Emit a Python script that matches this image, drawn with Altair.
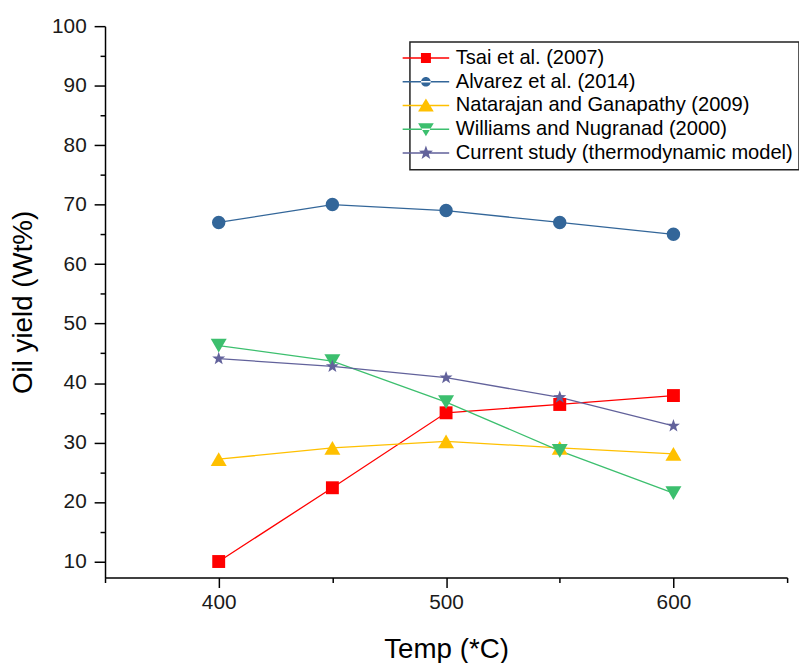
import altair as alt
import pandas as pd

temps = [400, 450, 500, 550, 600]
series_names = [
    "Tsai et al. (2007)",
    "Alvarez et al. (2014)",
    "Natarajan and Ganapathy (2009)",
    "Williams and Nugranad (2000)",
    "Current study (thermodynamic model)",
]
tsai = [10.0, 22.4, 35.0, 36.4, 37.9]
alvarez = [67.0, 70.0, 69.0, 67.0, 65.0]
natarajan = [27.2, 29.1, 30.2, 29.1, 28.1]
williams = [46.3, 43.7, 36.8, 28.6, 21.5]
current = [44.1, 42.8, 40.9, 37.6, 32.8]

y_major = [10, 20, 30, 40, 50, 60, 70, 80, 90, 100]
y_minor = [15, 25, 35, 45, 55, 65, 75, 85, 95]
x_major = [400, 500, 600]
x_minor = [350, 450, 550, 650]

colors = ["#ff0000", "#336699", "#ffc000", "#3cbf6e", "#62629b"]

STAR = [(0, -1), (0.239, -0.329), (0.951, -0.309), (0.386, 0.126), (0.588, 0.809),
        (0, 0.406), (-0.588, 0.809), (-0.386, 0.126), (-0.951, -0.309), (-0.239, -0.329)]
SQUARE = [(-1, -1), (1, -1), (1, 1), (-1, 1)]
TRI_UP = [(0, -1), (1.13, 0.87), (-1.13, 0.87)]
TRI_DOWN = [(0, 1), (1.13, -0.87), (-1.13, -0.87)]


def poly(pts, s):
    return "M" + "L".join(f"{x * s:.3f},{y * s:.3f}" for x, y in pts) + "Z"


def circ(r):
    return f"M{-r:.3f},0A{r:.3f},{r:.3f} 0 1,0 {r:.3f},0A{r:.3f},{r:.3f} 0 1,0 {-r:.3f},0Z"


plot_shapes = ["square", "circle", "triangle-up", "triangle-down", poly(STAR, 1)]
marker_sizes = [170, 185, 260, 260, 190]

# legend symbols: thin horizontal bar with marker (symbol size 196 -> 7px per unit)
L = 3.357
H = 0.107
line_seg = f"M{-L},{-H}H{L}V{H}H{-L}Z"
legend_shapes = [
    line_seg + poly(SQUARE, 0.72),
    line_seg + circ(0.70),
    line_seg + poly(TRI_UP, 1.0),
    line_seg + poly(TRI_DOWN, 1.0),
    line_seg + poly(STAR, 1.07),
]

rows = []
for name, vals in zip(series_names, [tsai, alvarez, natarajan, williams, current]):
    for t, v in zip(temps, vals):
        rows.append({"series": name, "temp": t, "yield": v})
df = pd.DataFrame(rows)

xscale = alt.Scale(domain=[350, 650], nice=False, zero=False)
yscale = alt.Scale(domain=[7.3, 100], nice=False, zero=False)

x_major_axis = alt.Axis(
    values=x_major, title="Temp (*C)", orient="bottom", format="d",
    tickSize=10, labelPadding=4, titlePadding=24,
)
y_major_axis = alt.Axis(
    values=y_major, title="Oil yield (Wt%)", orient="left", format="d",
    tickSize=11, labelPadding=8, titlePadding=14,
)
x_minor_axis = alt.Axis(
    values=x_minor, title=None, orient="bottom", labels=False, domain=False, tickSize=5,
)
y_minor_axis = alt.Axis(
    values=y_minor, title=None, orient="left", labels=False, domain=False, tickSize=5,
)

layers = []
for i, (name, col) in enumerate(zip(series_names, colors)):
    layers.append(
        alt.Chart(df).transform_filter(alt.datum.series == name).mark_line(
            strokeWidth=1.3, color=col
        ).encode(
            x=alt.X("temp:Q", scale=xscale, axis=x_major_axis if i == 0 else None),
            y=alt.Y("yield:Q", scale=yscale, axis=y_major_axis if i == 0 else None),
        )
    )
for name, col, shp, sz in zip(series_names, colors, plot_shapes, marker_sizes):
    layers.append(
        alt.Chart(df).transform_filter(alt.datum.series == name).mark_point(
            filled=True, opacity=1, shape=shp, size=sz, color=col
        ).encode(
            x=alt.X("temp:Q", scale=xscale, axis=None),
            y=alt.Y("yield:Q", scale=yscale, axis=None),
        )
    )

# invisible layer that only carries the legend and the minor ticks
legend_layer = alt.Chart(df).mark_point(filled=True, opacity=0).encode(
    x=alt.X("temp:Q", scale=xscale, axis=x_minor_axis),
    y=alt.Y("yield:Q", scale=yscale, axis=y_minor_axis),
    color=alt.Color("series:N", scale=alt.Scale(domain=series_names, range=colors),
                    legend=alt.Legend(title=None, symbolOpacity=1)),
    shape=alt.Shape("series:N", scale=alt.Scale(domain=series_names, range=legend_shapes),
                    legend=alt.Legend(title=None, symbolOpacity=1)),
)
layers.append(legend_layer)

chart = alt.layer(*layers).resolve_axis(
    x="independent", y="independent"
).properties(
    width=689,
    height=557,
    padding={"left": 98, "top": 15, "right": 12, "bottom": 88},
    autosize=alt.AutoSizeParams(type="none"),
).configure_view(
    stroke=None
).configure_axis(
    grid=False,
    domainColor="#000000",
    domainWidth=1.5,
    tickColor="#000000",
    tickWidth=1.5,
    labelFont="Liberation Sans",
    labelFontSize=21,
    labelColor="#1a1a1a",
    titleFont="Liberation Sans",
    titleFontSize=28,
    titleFontWeight="normal",
    titleColor="#000000",
).configure_legend(
    orient="none",
    legendX=308,
    legendY=16,
    symbolSize=196,
    symbolStrokeWidth=0,
    labelFont="Liberation Sans",
    labelFontSize=20.3,
    labelColor="#000000",
    labelOffset=20,
    strokeColor="#222222",
    strokeWidth=1.5,
    fillColor="#ffffff",
    padding=6,
    rowPadding=3,
    labelLimit=0,
)

chart.save("out.html", embed_options={"renderer": "svg", "actions": False})
